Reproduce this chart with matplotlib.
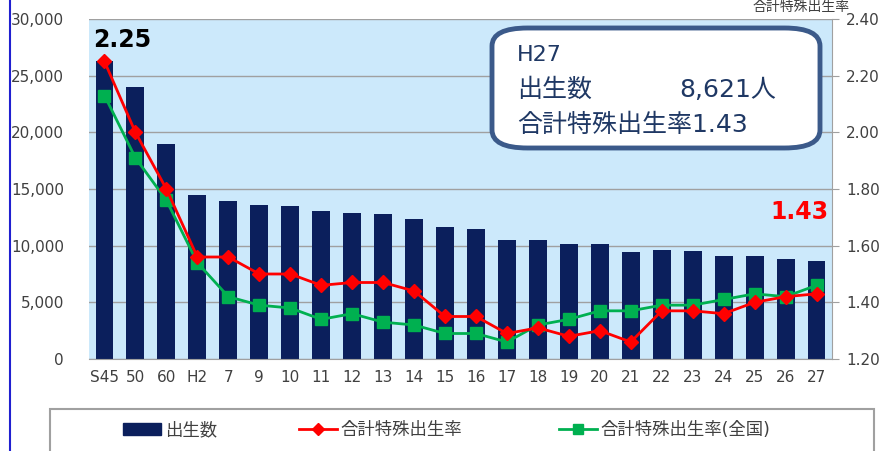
import matplotlib.pyplot as plt
from matplotlib.patches import FancyBboxPatch
from matplotlib.lines import Line2D
from matplotlib.ticker import FuncFormatter

plt.rcParams["font.family"] = ["DejaVu Sans", "Noto Sans CJK JP"]

# data
years = ["S45", "50", "60", "H2", "7", "9", "10", "11", "12", "13", "14", "15",
         "16", "17", "18", "19", "20", "21", "22", "23", "24", "25", "26", "27"]
births = [26300, 24000, 19000, 14500, 13900, 13550, 13500, 13050, 12850, 12800,
          12350, 11650, 11450, 10470, 10470, 10150, 10150, 9440, 9620, 9500,
          9090, 9090, 8800, 8621]
tfr = [2.25, 2.00, 1.80, 1.56, 1.56, 1.50, 1.50, 1.46, 1.47, 1.47, 1.44, 1.35,
       1.35, 1.29, 1.31, 1.28, 1.30, 1.26, 1.37, 1.37, 1.36, 1.40, 1.42, 1.43]
tfr_national = [2.13, 1.91, 1.76, 1.54, 1.42, 1.39, 1.38, 1.34, 1.36, 1.33, 1.32,
                1.29, 1.29, 1.26, 1.32, 1.34, 1.37, 1.37, 1.39, 1.39, 1.41, 1.43,
                1.42, 1.46]
labels = ["出生数", "合計特殊出生率", "合計特殊出生率(全国)"]

navy = "#0B1F5C"
red = "#FF0000"
green = "#00B050"
txt = "#404040"

fig = plt.figure(figsize=(8.89, 4.51), dpi=100)
ax = fig.add_axes([89 / 889, 1 - 359 / 451, (832 - 89) / 889, 340 / 451])
ax.set_facecolor("#CCE9FB")
x = range(len(years))

ax.bar(x, births, width=0.58, color=navy, zorder=2)
ax.set_ylim(0, 30000)
ax.set_xlim(-0.5, len(years) - 0.5)
ax.set_yticks(range(0, 30001, 5000))
ax.yaxis.set_major_formatter(FuncFormatter(lambda v, p: f"{int(v):,}"))
ax.grid(axis="y", color="#A0A0A0", lw=1, zorder=1)
ax.set_xticks(list(x))
ax.set_xticklabels(years)
ax.tick_params(axis="y", length=0, labelsize=11, colors=txt, pad=18)
ax.tick_params(axis="x", length=0, labelsize=11, colors=txt, pad=8)
for s in ["left", "top", "right"]:
    ax.spines[s].set_visible(False)
ax.spines["bottom"].set_color("#A0A0A0")

ax2 = ax.twinx()
ax2.set_ylim(1.2, 2.4)
ax2.set_yticks([1.2, 1.4, 1.6, 1.8, 2.0, 2.2, 2.4])
ax2.yaxis.set_major_formatter(FuncFormatter(lambda v, p: f"{v:.2f}"))
ax2.tick_params(axis="y", length=5, color="#A0A0A0", labelsize=11, colors=txt, pad=5)
for s in ["left", "top", "bottom"]:
    ax2.spines[s].set_visible(False)
ax2.spines["right"].set_color("#A0A0A0")

ax2.plot(x, tfr_national, color=green, lw=2, marker="s", ms=9, zorder=3)
ax2.plot(x, tfr, color=red, lw=2, marker="D", ms=7, zorder=4)

ax2.text(-0.38, 2.325, "2.25", fontsize=17, fontweight="bold", color="black", va="center")
ax2.text(22.45, 1.719, "1.43", fontsize=17, fontweight="bold", color=red,
         va="center", ha="center")

fig.text(850 / 889, 1.0, "合計特殊出生率", ha="right", va="top", fontsize=10, color=txt)

# info box
box = FancyBboxPatch((492 / 889, 1 - 148 / 451), 328 / 889, 120 / 451,
                     boxstyle="round,pad=0,rounding_size=0.04", transform=fig.transFigure,
                     facecolor="white", edgecolor="#3B5A8A", lw=3.5, zorder=5)
fig.patches.append(box)
navy_txt = "#1F3864"
kw = dict(color=navy_txt, va="center", zorder=10)
fig.text(517 / 889, 1 - 55 / 451, "H27", fontsize=16, **kw)
fig.text(517 / 889, 1 - 90 / 451, "出生数", fontsize=18, **kw)
fig.text(776 / 889, 1 - 90 / 451, "8,621人", fontsize=18, ha="right", **kw)
fig.text(517 / 889, 1 - 125 / 451, "合計特殊出生率1.43", fontsize=18, **kw)

# left blue rule
fig.add_artist(Line2D([10 / 889, 10 / 889], [0, 1], color="#2020D0", lw=1.5,
                      transform=fig.transFigure))

# legend box
fig.patches.append(plt.Rectangle((50 / 889, -0.02), 824 / 889, (451 - 409) / 451 + 0.02,
                                 transform=fig.transFigure, facecolor="white",
                                 edgecolor="#A0A0A0", lw=1.5))
handles = [plt.Rectangle((0, 0), 1, 1, color=navy),
           Line2D([], [], color=red, lw=2, marker="D", ms=6),
           Line2D([], [], color=green, lw=2, marker="s", ms=7)]
for h, lab, xs in zip(handles, labels, [123, 299, 559]):
    fig.legend([h], [lab], loc="center left", bbox_to_anchor=(xs / 889, 1 - 430 / 451),
               frameon=False, fontsize=12.5, handlelength=2.2, handletextpad=0.2,
               borderpad=0, borderaxespad=0, labelcolor=txt)

fig.savefig("out.png", dpi=100)
